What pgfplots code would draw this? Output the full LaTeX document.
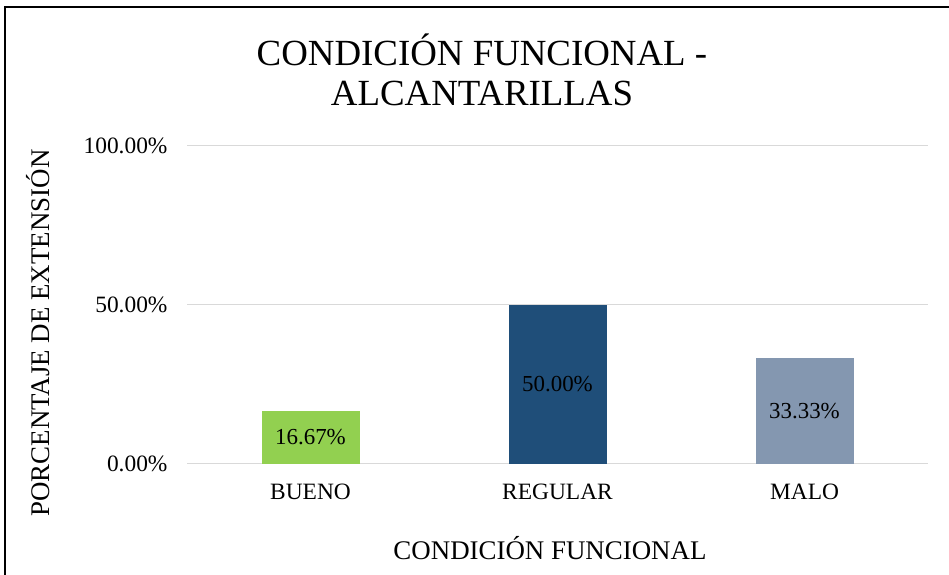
\documentclass[border=0pt]{standalone}
\usepackage{pgfplots}
\pgfplotsset{compat=1.18}
\usepackage{fontspec}
\setmainfont{Liberation Serif}

\definecolor{bueno}{HTML}{92D050}
\definecolor{regular}{HTML}{1F4E79}
\definecolor{malo}{HTML}{8497B0}
\definecolor{gridgray}{HTML}{D9D9D9}

\begin{document}
\begin{tikzpicture}
\path[use as bounding box] (0,0) rectangle (949bp,575bp);
% frame (only top and left edges show in the reference)
\draw[line width=1.5bp] (5bp,0) -- (5bp,568bp) -- (949bp,568bp);

\begin{axis}[
    at={(187bp,111bp)}, anchor=south west,
    scale only axis,
    width=741bp, height=318bp,
    xmin=-0.5, xmax=2.5,
    ymin=0, ymax=100,
    xtick={0,1,2},
    xticklabels={BUENO,REGULAR,MALO},
    ytick={0,50,100},
    yticklabel={\pgfmathprintnumber[fixed,fixed zerofill,precision=2]{\tick}\%},
    /pgf/number format/assume math mode=true,
    ymajorgrids,
    grid style={gridgray, line width=1bp},
    axis line style={draw=none},
    major tick length=0pt,
    tick label style={font=\fontsize{23.5}{27}\selectfont},
    xticklabel style={yshift=-16bp},
    yticklabel style={xshift=-16bp},
    ybar, bar width=98bp, bar shift=0pt,
    nodes near coords={\pgfmathprintnumber[fixed,fixed zerofill,precision=2]{\pgfplotspointmeta}\%},
    every node near coord/.append style={font=\fontsize{23}{27}\selectfont, anchor=center, text=black},
]
\addplot[fill=bueno, draw=none, every node near coord/.append style={yshift=-26.5bp}]
    coordinates {(0,16.67)};
\addplot[fill=regular, draw=none, every node near coord/.append style={yshift=-79.5bp}]
    coordinates {(1,50.00)};
\addplot[fill=malo, draw=none, every node near coord/.append style={yshift=-53bp}]
    coordinates {(2,33.33)};
\end{axis}

\node[font=\fontsize{37}{44}\selectfont] at (482bp,525bp) {CONDICIÓN FUNCIONAL -};
\node[font=\fontsize{37}{44}\selectfont] at (482bp,482bp) {ALCANTARILLAS};
\node[font=\fontsize{27}{32}\selectfont] at (550bp,27bp) {CONDICIÓN FUNCIONAL};
\node[font=\fontsize{27}{32}\selectfont, rotate=90] at (38bp,242bp) {PORCENTAJE DE EXTENSIÓN};
\end{tikzpicture}
\end{document}
